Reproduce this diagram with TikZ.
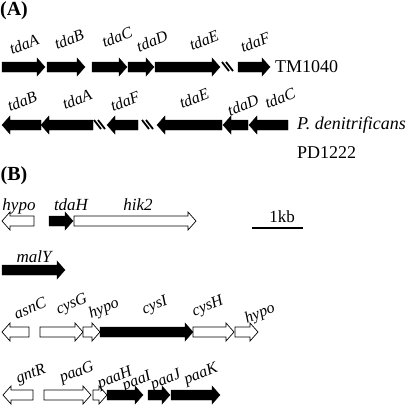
\documentclass[tikz,border=0pt]{standalone}
\usepackage{fontspec}
\setmainfont{Liberation Serif}
\newcommand{\rgene}[4]{\draw[#4] (#1,#3-5) -- (#2-8,#3-5) -- (#2-8,#3-9) -- (#2,#3) -- (#2-8,#3+9) -- (#2-8,#3+5) -- (#1,#3+5) -- cycle;}
\newcommand{\lgene}[4]{\draw[#4] (#2,#3-5) -- (#1+8,#3-5) -- (#1+8,#3-9) -- (#1,#3) -- (#1+8,#3+9) -- (#1+8,#3+5) -- (#2,#3+5) -- cycle;}
\newcommand{\brk}[2]{\draw[line width=1.8pt] (#1,#2-5) -- (#1+7,#2+4); \draw[line width=1.8pt] (#1+4,#2-5) -- (#1+11,#2+4);}
\begin{document}
\begin{tikzpicture}[x=1pt,y=-1pt,
  gl/.style={font=\fontsize{16}{16}\selectfont\itshape, rotate=22, inner sep=0pt},
  hl/.style={font=\fontsize{17}{17}\selectfont\itshape, inner sep=0pt, anchor=base},
  nm/.style={font=\fontsize{18}{18}\selectfont, inner sep=0pt, anchor=west},
  pan/.style={font=\fontsize{20}{20}\selectfont\bfseries, inner sep=0pt},
  bk/.style={fill=black, draw=black},
  wt/.style={fill=white, draw=black, line width=0.7pt}]
  \useasboundingbox (0,0) rectangle (408,410);
  %(A)
  \node[pan] (pA) at (14,11) {(A)};
  \rgene{2}{45}{67}{bk}
  \rgene{47}{85}{67}{bk}
  \rgene{92}{127}{67}{bk}
  \rgene{128}{154}{67}{bk}
  \rgene{155}{220}{67}{bk}
  \brk{222}{67}
  \rgene{238}{270}{67}{bk}
  \node[gl] (tmA) at (24,44) {tdaA};
  \node[gl] (tmB) at (69,39) {tdaB};
  \node[gl] (tmC) at (117,37) {tdaC};
  \node[gl] (tmD) at (152,41) {tdaD};
  \node[gl] (tmE) at (204,40) {tdaE};
  \node[gl] (tmF) at (255,42) {tdaF};
  \node[nm] (tm) at (275,67) {TM1040};
  \lgene{2}{41}{125}{bk}
  \lgene{41}{93}{125}{bk}
  \brk{94}{125}
  \lgene{107}{138}{125}{bk}
  \brk{142}{125}
  \lgene{157}{222}{125}{bk}
  \lgene{223}{248}{125}{bk}
  \lgene{249}{288}{125}{bk}
  \node[gl] (pdB) at (22,101) {tdaB};
  \node[gl] (pdA) at (77,99) {tdaA};
  \node[gl] (pdF) at (125,101) {tdaF};
  \node[gl] (pdE) at (194,98) {tdaE};
  \node[gl] (pdD) at (243,105) {tdaD};
  \node[gl] (pdC) at (280,98) {tdaC};
  \node[nm] (pd) at (297,125) {\itshape P. denitrificans};
  \node[nm] (pd2) at (297,153) {PD1222};
  %(B)
  \node[pan] (pB) at (14,176) {(B)};
  \lgene{2}{34}{221}{wt}
  \rgene{49}{73}{221}{bk}
  \rgene{74}{196}{221}{wt}
  \node[hl] (hypo1) at (19,210) {hypo};
  \node[hl] (tdaH) at (71,210) {tdaH};
  \node[hl] (hik2) at (138,210) {hik2};
  \coordinate (sbl) at (252,228);
  \coordinate (sbr) at (303,228);
  \draw[line width=2pt] (sbl) -- (sbr);
  \node[hl, font=\fontsize{17}{17}\selectfont] (kb) at (282,222) {1kb};
  \rgene{2}{65}{270}{bk}
  \node[hl] (malY) at (34,262) {malY};
  \lgene{2}{29}{332}{wt}
  \rgene{40}{83}{332}{wt}
  \rgene{83}{100}{332}{wt}
  \rgene{100}{193}{332}{bk}
  \rgene{193}{234}{332}{wt}
  \rgene{235}{258}{332}{wt}
  \node[gl] (asnC) at (30,308) {asnC};
  \node[gl] (cysG) at (72,305) {cysG};
  \node[gl] (hypo2) at (104,309) {hypo};
  \node[gl] (cysI) at (155,306) {cysI};
  \node[gl] (cysH) at (208,307) {cysH};
  \node[gl] (hypo3) at (260,314) {hypo};
  \lgene{3}{33}{395}{wt}
  \rgene{44}{91}{395}{wt}
  \rgene{93}{107}{395}{wt}
  \rgene{107}{143}{395}{bk}
  \rgene{148}{170}{395}{bk}
  \rgene{171}{220}{395}{bk}
  \node[gl] (gntR) at (31,375) {gntR};
  \node[gl] (paaG) at (77,373) {paaG};
  \node[gl] (paaH) at (115,379) {paaH};
  \node[gl] (paaI) at (137,382) {paaI};
  \node[gl] (paaJ) at (166,380) {paaJ};
  \node[gl] (paaK) at (201,375) {paaK};
\end{tikzpicture}
\end{document}
